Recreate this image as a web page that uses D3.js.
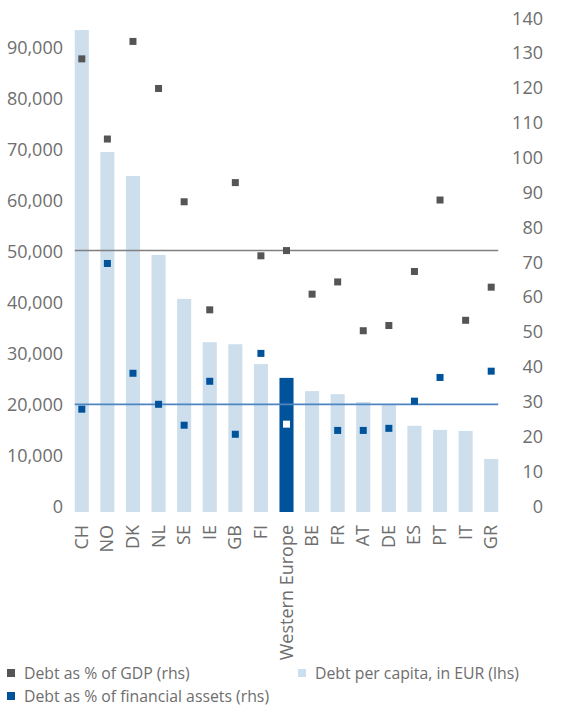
<!DOCTYPE html>
<html lang="en">
<head>
	<meta charset="UTF-8">
	<title>Household debt, Western Europe</title>
	<script src="https://cdn.jsdelivr.net/npm/d3@7"></script>
	<style>
		body { margin: 0; background: #fff; }
		text { font-family: "Open Sans", sans-serif; font-weight: 400; fill: #6e6e6e; }
	</style>
</head>
<body>
	<div id="vis"></div>

	<script>
		// data
		var categories = ["CH", "NO", "DK", "NL", "SE", "IE", "GB", "FI", "Western Europe",
			"BE", "FR", "AT", "DE", "ES", "PT", "IT", "GR"];
		// debt per capita, EUR (left axis)
		var debtPerCapita = [94500, 70600, 65900, 50400, 41800, 33300, 32900, 29000, 26300,
			23700, 23100, 21600, 21100, 16900, 16100, 15900, 10400];
		// debt as % of GDP (right axis)
		var debtGdp = [130, 107, 135, 121.5, 89, 58, 94.5, 73.5, 75,
			62.5, 66, 52, 53.5, 69, 89.5, 55, 64.5];
		// debt as % of financial assets (right axis), missing for BE and IT
		var debtFinAssets = [29.5, 71.3, 39.8, 30.9, 24.9, 37.5, 22.3, 45.5, 25.2,
			null, 23.4, 23.4, 24, 31.8, 38.6, null, 40.4];
		// horizontal reference lines (right axis)
		var refGdp = 75;
		var refFinAssets = 30.9;
		var leftTicks = [0, 10000, 20000, 30000, 40000, 50000, 60000, 70000, 80000, 90000];
		var rightTicks = d3.range(0, 141, 10);
		var highlight = "Western Europe";

		var width = 584;
		var height = 713;

		var colLight = "#cddeec";
		var colDark = "#00539b";
		var colGray = "#555555";

		var svg = d3.select("#vis").append("svg")
				.attr("width", width)
				.attr("height", height);

		// scales
		var x = d3.scaleBand()
				.domain(categories)
				.range([69, 504])
				.paddingInner(0.45)
				.paddingOuter(0.225);

		var yLeft = d3.scaleLinear().domain([0, 95700]).range([512, 24]);
		var yRight = d3.scaleLinear().domain([0, 140]).range([512, 24]);

		// bars
		svg.append("g").selectAll("rect")
			.data(categories)
			.join("rect")
				.attr("x", function(d) { return x(d); })
				.attr("width", x.bandwidth())
				.attr("y", function(d, i) { return yLeft(debtPerCapita[i]); })
				.attr("height", function(d, i) { return yLeft(0) - yLeft(debtPerCapita[i]); })
				.attr("fill", function(d) { return d === highlight ? colDark : colLight; });

		// reference lines
		var x0 = x(categories[0]);
		var x1 = x(categories[categories.length - 1]) + x.bandwidth();
		svg.append("line")
			.attr("x1", x0).attr("x2", x1)
			.attr("y1", yRight(refGdp)).attr("y2", yRight(refGdp))
			.attr("stroke", "#808080").attr("stroke-width", 1.6);
		svg.append("line")
			.attr("x1", x0).attr("x2", x1)
			.attr("y1", yRight(refFinAssets)).attr("y2", yRight(refFinAssets))
			.attr("stroke", "#4f86c2").attr("stroke-width", 1.8);

		// markers
		var ms = 7;
		svg.append("g").selectAll("rect")
			.data(categories)
			.join("rect")
				.attr("x", function(d) { return x(d) + x.bandwidth() / 2 - ms / 2; })
				.attr("y", function(d, i) { return yRight(debtGdp[i]) - ms / 2; })
				.attr("width", ms).attr("height", ms)
				.attr("fill", colGray);

		svg.append("g").selectAll("rect")
			.data(categories.filter(function(d, i) { return debtFinAssets[i] !== null; }))
			.join("rect")
				.attr("x", function(d) { return x(d) + x.bandwidth() / 2 - ms / 2; })
				.attr("y", function(d) { return yRight(debtFinAssets[categories.indexOf(d)]) - ms / 2; })
				.attr("width", ms).attr("height", ms)
				.attr("fill", function(d) { return d === highlight ? "#ffffff" : colDark; });

		// left axis
		var gl = svg.append("g")
				.attr("transform", "translate(69,0)")
				.call(d3.axisLeft(yLeft).tickValues(leftTicks).tickFormat(d3.format(",")).tickSize(0).tickPadding(6));
		// right axis, labels right-aligned
		var gr = svg.append("g")
				.attr("transform", "translate(543,0)")
				.call(d3.axisLeft(yRight).tickValues(rightTicks).tickSize(0).tickPadding(0));

		[gl, gr].forEach(function(g) {
			g.select(".domain").remove();
			g.selectAll("text")
				.attr("dy", 0)
				.attr("fill", "#6e6e6e")
				.style("font-size", "18px")
				.style("font-family", "'Open Sans', sans-serif");
		});

		// category labels, rotated
		svg.append("g").selectAll("text")
			.data(categories)
			.join("text")
				.attr("transform", function(d) {
					return "translate(" + (x(d) + x.bandwidth() / 2 + 6) + ",525) rotate(-90)";
				})
				.attr("text-anchor", "end")
				.style("font-size", "18px")
				.text(function(d) { return d; });

		// legend
		var legend = [
			{label: "Debt as % of GDP (rhs)", color: colGray, x: 7, y: 673},
			{label: "Debt per capita, in EUR (lhs)", color: colLight, x: 298, y: 673},
			{label: "Debt as % of financial assets (rhs)", color: colDark, x: 7, y: 696}
		];
		var lg = svg.append("g").selectAll("g")
			.data(legend)
			.join("g")
				.attr("transform", function(d) { return "translate(" + d.x + "," + d.y + ")"; });
		lg.append("rect")
			.attr("x", 0).attr("y", -4)
			.attr("width", 8).attr("height", 8)
			.attr("fill", function(d) { return d.color; });
		lg.append("text")
			.attr("x", 17)
			.attr("y", 6)
			.style("font-size", "15.8px")
			.text(function(d) { return d.label; });
	</script>
</body>
</html>
